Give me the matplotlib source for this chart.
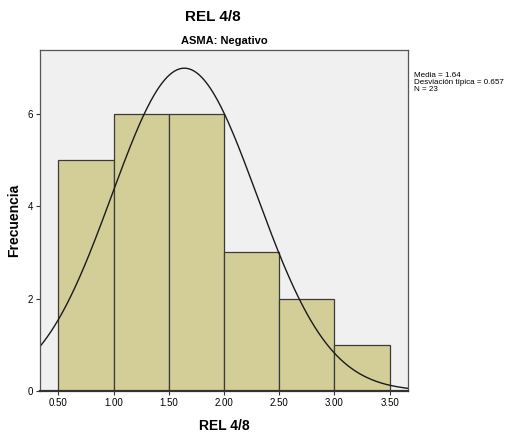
import numpy as np
import matplotlib
matplotlib.use('Agg')
import matplotlib.pyplot as plt

# histogram data
bin_edges = [0.5, 1.0, 1.5, 2.0, 2.5, 3.0, 3.5]
counts = [5, 6, 6, 3, 2, 1]
mean = 1.64
sd = 0.657
n = 23
xticks = [0.5, 1.0, 1.5, 2.0, 2.5, 3.0, 3.5]
yticks = [0, 2, 4, 6]

plt.rcParams['font.family'] = ['Liberation Sans', 'DejaVu Sans']

fig = plt.figure(figsize=(5.32, 4.37), dpi=100)
ax = fig.add_axes([0.0752, 0.105, 0.692, 0.781])
ax.set_facecolor('#f0f0f0')

widths = np.diff(bin_edges)
ax.bar(bin_edges[:-1], counts, width=widths, align='edge',
       color='#d3ce98', edgecolor='#3a3a3a', linewidth=0.9)

# normal curve scaled to counts
xs = np.linspace(0.333, 3.667, 300)
ys = n * widths[0] / (sd * np.sqrt(2 * np.pi)) * np.exp(-0.5 * ((xs - mean) / sd) ** 2)
ax.plot(xs, ys, color='#1a1a1a', linewidth=1.0)

ax.set_xlim(0.333, 3.667)
ax.set_ylim(0, 7.38)
ax.set_xticks(xticks)
ax.set_xticklabels(['%.2f' % v for v in xticks])
ax.set_yticks(yticks)
ax.tick_params(labelsize=7, length=3, width=0.8, color='#333333', pad=2)
for s in ax.spines.values():
    s.set_color('#555555')
    s.set_linewidth(0.9)
ax.spines['bottom'].set_color('#333333')
ax.spines['bottom'].set_linewidth(1.6)

ax.set_xlabel('REL 4/8', fontsize=10, fontweight='bold', labelpad=8)
ax.set_ylabel('Frecuencia', fontsize=10, fontweight='bold')
ax.yaxis.set_label_coords(-0.052, 0.5)
ax.set_title('ASMA: Negativo', fontsize=8, fontweight='bold', pad=4)
fig.text(0.4, 0.96, 'REL 4/8', fontsize=11, fontweight='bold', ha='center', va='center')

fig.text(0.778, 0.836, 'Media = %.2f\nDesviación típica = %.3f\nN = %d' % (mean, sd, n),
         fontsize=5.8, va='top', ha='left', linespacing=1.08)

fig.savefig('out.png', dpi=100)
